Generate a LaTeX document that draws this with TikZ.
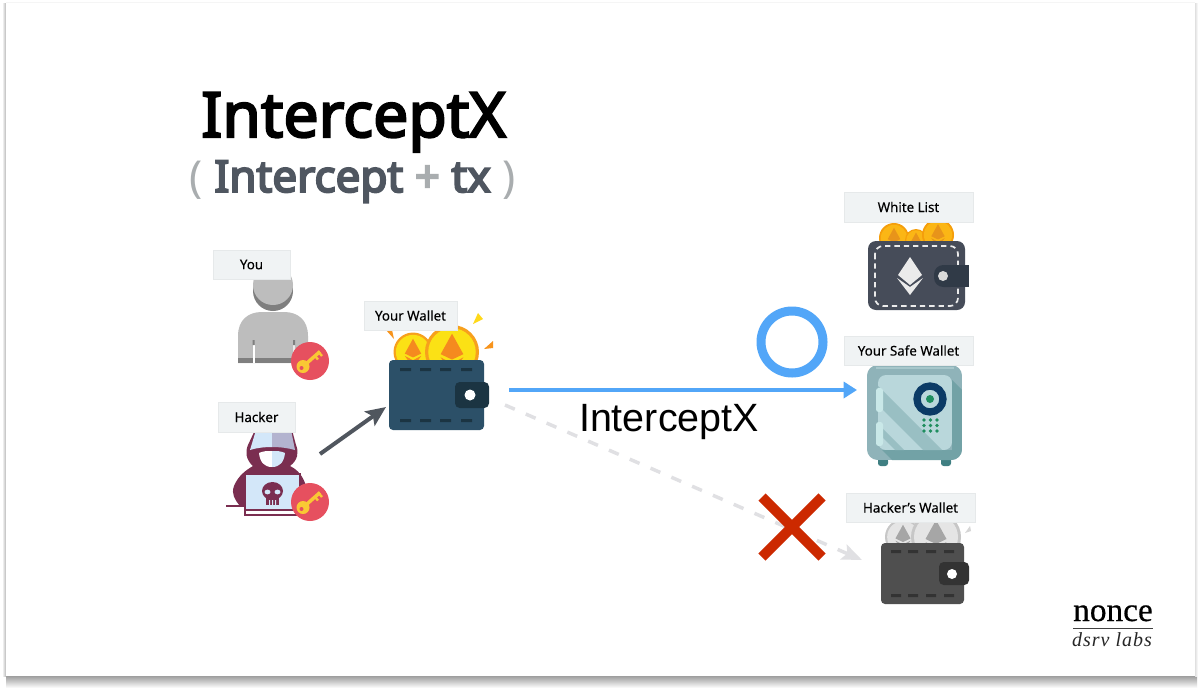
\documentclass[tikz,border=0pt]{standalone}
\usepackage{fontspec}
\setmainfont{Noto Sans}
\newfontfamily\ttlfont[FakeBold=3.5]{Noto Sans}
\newfontfamily\subfont[FakeBold=4.5]{Noto Sans}
\newfontfamily\lblfont[FakeBold=.2]{Noto Sans}
\newfontfamily\hvfont{Liberation Sans}
\newfontfamily\srfont[FakeBold=.5]{Liberation Serif}
\newfontfamily\srifont[LetterSpace=5]{Liberation Serif Italic}
\usetikzlibrary{arrows.meta,calc}
\definecolor{lblfill}{HTML}{F0F3F4}
\definecolor{lbledge}{HTML}{E6E9EA}
\definecolor{badge}{HTML}{E6505F}
\definecolor{keyy}{HTML}{F9C834}
\definecolor{pgray}{HTML}{BDBDBD}
\definecolor{pdark}{HTML}{7F7F7F}
\definecolor{hpurple}{HTML}{7A2E50}
\definecolor{hblue}{HTML}{D3E7F9}
\definecolor{hlav}{HTML}{B3B3CF}
\definecolor{walA}{HTML}{2C5068}
\definecolor{walAd}{HTML}{1B3442}
\definecolor{walB}{HTML}{464C59}
\definecolor{walBd}{HTML}{303A47}
\definecolor{walC}{HTML}{4F4F4F}
\definecolor{walCd}{HTML}{333333}
\definecolor{blueA}{HTML}{52A6F8}
\definecolor{darkarr}{HTML}{50565E}
\definecolor{dashg}{HTML}{E0E0E3}
\definecolor{redx}{HTML}{CC2900}
\definecolor{subtx}{HTML}{4F5660}
\definecolor{subgr}{HTML}{A9ADAF}
\definecolor{safeA}{HTML}{8FB3B9}
\definecolor{safeB}{HTML}{B9D7DB}
\definecolor{safeC}{HTML}{99BFC3}
\definecolor{safeD}{HTML}{72A2A6}
\definecolor{safeE}{HTML}{A7C7CB}
\definecolor{safeF}{HTML}{3F7F82}
\definecolor{safeH}{HTML}{C9E8E8}
\definecolor{navy}{HTML}{0B3B66}
\definecolor{greenK}{HTML}{1F8E5F}
\definecolor{coinring}{HTML}{F7A01D}
\definecolor{coinfill}{HTML}{FBE115}
\definecolor{coineth}{HTML}{F58A1F}
\definecolor{goldring}{HTML}{F59E0B}
\definecolor{goldfill}{HTML}{FBB615}
\definecolor{goldeth}{HTML}{E8941A}
\definecolor{sparkY}{HTML}{FFD91A}
\definecolor{sparkO}{HTML}{F7941D}
\newcommand{\ethcoin}[6]{%
  \begin{scope}[shift={(#1,#2)},scale=#3]
    \fill[#4] (0,0) circle (1);
    \fill[#5] (0,0) circle (.88);
    \fill[#6] (0,-.68) -- (-.42,.08) -- (0,.28) -- (.42,.08) -- cycle;
    \fill[#6] (-.42,.2) -- (0,.42) -- (.42,.2) -- (0,.8) -- cycle;
  \end{scope}}
\newcommand{\stitches}[5]{%
  \foreach \sx in {#2} {\fill[#1] (\sx,#3) rectangle ++(#5,3) (\sx,#4) rectangle ++(#5,3);}}
\tikzset{
  lbl/.style={fill=lblfill,draw=lbledge,line width=.4pt,inner sep=0pt,font=\lblfont\fontsize{10}{12}\selectfont,text=black},
  pics/keybadge/.style={code={
    \fill[badge] (0,0) circle (19);
    \draw[keyy,line width=2.6pt] (-3,2) -- (10,-9.5);
    \draw[keyy,line width=1.8pt] (5,-5) -- (8,-1.5) (9,-8.5) -- (12,-5);
    \fill[keyy] (-7,5.5) circle (6.5);
    \fill[badge] (-8.5,7) circle (2);
  }},
  arrowdark/.style={draw=darkarr,line width=3pt,-{Stealth[length=15pt,width=13pt,inset=3pt]}},
  arrowblue/.style={draw=blueA,line width=2.6pt,-{Stealth[length=10pt,width=12pt,inset=0pt]}},
  arrowgray/.style={draw=dashg,line width=2.6pt,dash pattern=on 8pt off 9pt,-{Stealth[length=15pt,width=12pt,inset=3pt]}},
}
\begin{document}
\begin{tikzpicture}[x=.75pt,y=-.75pt]
\useasboundingbox (0,0) rectangle (1200,693);
% slide frame and shadow
\fill[white] (0,0) rectangle (1200,693);
\shade[top color=black!38,bottom color=white] (6,676) rectangle (1197,688);
\shade[left color=white,right color=black!28] (2,3) rectangle (6,676);
\shade[left color=black!12,right color=white] (1195,3) rectangle (1198,676);
\fill[black!4] (6,2) rectangle (1195,3);
\fill[white] (6,3) rectangle (1195,676);
% you
\fill[pdark] (273,291) circle (20);
\fill[pgray] (273,285) circle (20);
\fill[pgray] (238,363) -- (238,336) .. controls (238,320) and (248,312) .. (262,312) -- (284,312) .. controls (298,312) and (308,320) .. (308,336) -- (308,363) -- cycle;
\fill[pdark] (238,358) rectangle (308,363);
\fill[white] (252.5,345) rectangle (254.5,363);
\fill[white!70!pgray] (293,345) rectangle (295,358);
\fill[white] (293,358) rectangle (295,363);
\fill[pdark] (252.5,340) rectangle (254.5,345) (293,340) rectangle (295,345);
\pic at (310,361) {keybadge};
% hacker
\fill[hpurple] (255,430) -- (292,430) -- (296,445) .. controls (299,452) and (298,460) .. (290,466)
  .. controls (298,470) and (303,476) .. (306,486) .. controls (309,494) and (306,500) .. (304,506)
  -- (240,506) .. controls (235,500) and (231,494) .. (234,486) .. controls (238,476) and (246,470) .. (253,466)
  .. controls (246,460) and (245,452) .. (248,445) -- cycle;
\fill[hblue] (256,430) -- (272,430) -- (272,447) .. controls (264,447) and (256,448) .. (250,450) -- cycle;
\fill[hlav] (272,430) -- (291,430) -- (295,450) .. controls (288,448) and (280,447) .. (272,447) -- cycle;
\fill[white] (259,453) .. controls (263,451) and (267,451) .. (272,451) -- (272,467) .. controls (264,467) and (260,462) .. (259,453) -- cycle;
\fill[hblue] (285,453) .. controls (281,451) and (277,451) .. (272,451) -- (272,467) .. controls (280,467) and (284,462) .. (285,453) -- cycle;
\draw[hpurple,line width=1.2pt] (226,506) -- (246,506);
\draw[hpurple,fill=hblue,line width=1.6pt] (245,474) rectangle (300,510);
\draw[hpurple,fill=white,line width=1.4pt] (245,510) rectangle (300,515);
\fill[hpurple] (272.5,491) ellipse (10.5 and 9);
\fill[hpurple] (266,496) rectangle (279,505);
\fill[hblue] (267.5,492) ellipse (3 and 2.4) (277.5,492) ellipse (3 and 2.4);
\fill[hblue] (269,500) rectangle (270,505) (272,500) rectangle (273,505) (275,500) rectangle (276,505);
\pic at (310,502) {keybadge};
% your wallet
\fill[sparkO] (386,330) -- (392,330) -- (394,339) -- cycle;
\fill[sparkY] (478,313) -- (483,319) -- (473,324) -- cycle;
\fill[sparkO] (493,341) -- (493,348) -- (484,349) -- cycle;
\ethcoin{413}{352}{19.5}{coinring}{coinfill}{coineth}
\ethcoin{452}{352}{27}{coinring}{coinfill}{coineth}
\fill[walA,rounded corners=3pt] (389,360) rectangle (484,430);
\stitches{walAd}{400,420,440,461}{368}{419}{11}
\fill[walAd,rounded corners=3.5pt] (455,382) rectangle (489,408);
\fill[white] (470,395) circle (5.5);
% white list wallet
\ethcoin{894}{238}{15}{goldring}{goldfill}{goldeth}
\ethcoin{916}{240}{11}{goldring}{goldfill}{goldeth}
\ethcoin{938}{235}{16}{goldring}{goldfill}{goldeth}
\fill[walB,rounded corners=6pt] (868,241) rectangle (965,310);
\draw[white!92!black,line width=1.3pt,dash pattern=on 4pt off 3pt,rounded corners=6pt] (875,246) rectangle (958,306);
\fill[walBd,rounded corners=7pt] (960,265) rectangle (934,287);
\fill[walBd] (945,265) rectangle (969,287);
\fill[black!15] (943,276) circle (5);
\fill[white!92!black] (910,257) -- (898,275) -- (910,285) -- (922,275) -- cycle;
\fill[white!92!black] (897,278) -- (910,287) -- (923,278) -- (910,295) -- cycle;
% safe
\fill[safeF,rounded corners=2pt] (878,458) rectangle (888,466) (941,458) rectangle (951,466);
\begin{scope}
  \clip[rounded corners=8pt] (867,365) rectangle (962,460);
  \fill[safeA] (867,365) rectangle (962,460);
  \fill[safeD] (952,380) -- (962,390) -- (962,460) -- (892,460) -- (882,450) -- (952,450) -- cycle;
  \fill[safeE] (876,367) rectangle (954,369);
\end{scope}
\begin{scope}
  \clip[rounded corners=6pt] (878,375) rectangle (952,450);
  \fill[safeB] (878,375) rectangle (952,450);
  \fill[safeC] (867,375) -- (942,450) -- (923,450) -- (848,375) -- cycle;
  \fill[safeC] (829,375) -- (904,450) -- (895,450) -- (820,375) -- cycle;
\end{scope}
\fill[safeH,rounded corners=2pt] (876,388) rectangle (883,412) (876,422) rectangle (883,446);
\draw[navy,line width=5.5pt] (930,399) circle (13);
\fill[greenK] (930,399) circle (4);
\foreach \kx in {924,930.5,937} \foreach \ky in {420,425.5,431} \fill[greenK] (\kx,\ky) circle (1.9);
% hacker wallet
\fill[black!16] (970,526) -- (971,531) -- (965,533) -- cycle;
\ethcoin{903}{537}{18}{black!22}{black!10}{black!35}
\ethcoin{936}{537}{25}{black!22}{black!10}{black!35}
\fill[walC,rounded corners=3pt] (881,543) rectangle (964,604);
\stitches{walCd}{891,908,926,944}{550}{594}{10}
\fill[walCd,rounded corners=3.5pt] (939,562) rectangle (969,585);
\fill[white] (952,574) circle (5);
% labels
\node[lbl,minimum width=57.75pt,minimum height=21.75pt] (you) at (251.5,264.5) {You};
\node[lbl,minimum width=57.75pt,minimum height=22.5pt] (hacker) at (256.5,417) {Hacker};
\node[lbl,minimum width=69.75pt,minimum height=21.75pt] (wallet) at (410.5,315.5) {Your Wallet};
\node[lbl,minimum width=96.75pt,minimum height=22.5pt] (white) at (908.5,207) {White List};
\node[lbl,minimum width=96.75pt,minimum height=21.75pt] (safe) at (908.5,350.5) {Your Safe Wallet};
\node[lbl,minimum width=96.75pt,minimum height=21.75pt] (hwallet) at (910.5,507.5) {Hacker’s Wallet};
% title
\node[anchor=base,inner sep=0pt,font=\ttlfont\fontsize{46.8}{52}\selectfont] (title) at (353.5,137) {InterceptX};
\node[anchor=base,inner sep=0pt,font=\fontsize{33}{38}\selectfont,text=subgr] (sub) at (352.5,192) {( {\subfont\color{subtx}Intercept} {\subfont +} {\subfont\color{subtx}tx} )};
% connectors
\coordinate (hk) at (320,454);
\coordinate (wl) at (386,407);
\coordinate (wa) at (509,390);
\coordinate (sf) at (857,390);
\coordinate (wb) at (505,405);
\coordinate (hw) at (862,560);
\draw[arrowgray] (wb) -- (hw);
\draw[arrowdark] (hk) -- (wl);
\draw[arrowblue] (wa) -- (sf);
\node[inner sep=0pt,anchor=base,font=\hvfont\fontsize{29.6}{34}\selectfont] (ix) at (669,431) {InterceptX};
\node[circle,draw=blueA,line width=6.75pt,minimum size=46.5pt,inner sep=0pt] (okmark) at (792,342) {};
\coordinate (xa) at (762,497);
\coordinate (xb) at (822,557);
\coordinate (xc) at (762,557);
\coordinate (xd) at (822,497);
\draw[redx,line width=7.5pt] (xa) -- (xb) (xc) -- (xd);
% logo
\node[anchor=base,inner sep=0pt,font=\srfont\fontsize{25}{28}\selectfont] (nonce) at (1113,621) {nonce};
\coordinate (ra) at (1073,628);
\coordinate (rb) at (1153,628);
\draw[black!75,line width=.6pt] (ra) -- (rb);
\node[anchor=base,inner sep=0pt,font=\srifont\fontsize{15}{18}\selectfont,text=black!85] (dsrv) at (1112,646) {dsrv labs};
\end{tikzpicture}
\end{document}
